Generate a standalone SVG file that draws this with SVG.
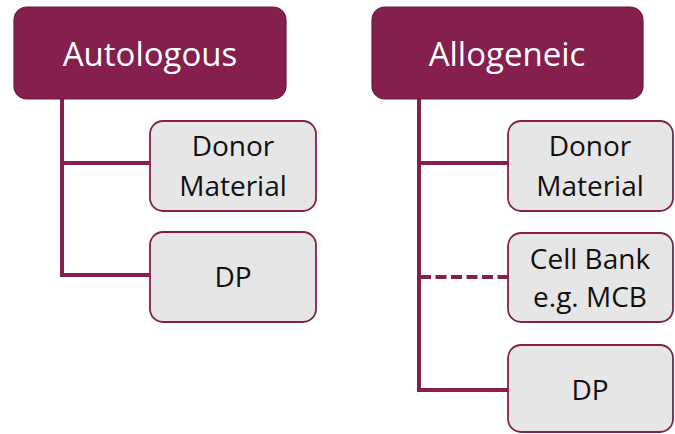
<svg xmlns="http://www.w3.org/2000/svg" width="675" height="434" viewBox="0 0 675 434">
  <style>
    .head rect { fill: #841f4e; stroke: #6b1940; stroke-width: 1.2; }
    .head text { fill: #ffffff; font-family: "Open Sans", "Noto Sans", sans-serif; font-size: 33px; text-anchor: middle; }
    .item rect { fill: #e6e6e6; stroke: #841f4e; stroke-width: 1.8; }
    .item text { fill: #111111; font-family: "Open Sans", "Noto Sans", sans-serif; font-size: 28px; text-anchor: middle; }
    .link { fill: none; stroke: #841f4e; stroke-width: 4; }
    .dashed { stroke-dasharray: 11 4.5; }
  </style>

  <!-- tree connectors -->
  <g id="connectors">
    <polyline class="link" points="62,99 62,275 150,275"/>
    <line class="link" x1="62" y1="163" x2="150" y2="163"/>
    <polyline class="link" points="419,99 419,390 508,390"/>
    <line class="link" x1="419" y1="163" x2="508" y2="163"/>
    <line class="link dashed" x1="420" y1="277" x2="508" y2="277"/>
  </g>

  <!-- left tree -->
  <g id="autologous" class="head">
    <rect x="14" y="7" width="272" height="92" rx="13"/>
    <text x="150" y="66">Autologous</text>
  </g>
  <g id="auto-donor-material" class="item">
    <rect x="150" y="121" width="166" height="90" rx="13"/>
    <text x="233" y="156">Donor</text>
    <text x="233" y="196">Material</text>
  </g>
  <g id="auto-dp" class="item">
    <rect x="150" y="232" width="166" height="90" rx="13"/>
    <text x="233" y="287">DP</text>
  </g>

  <!-- right tree -->
  <g id="allogeneic" class="head">
    <rect x="372" y="7" width="271" height="92" rx="13"/>
    <text x="507" y="66">Allogeneic</text>
  </g>
  <g id="allo-donor-material" class="item">
    <rect x="508" y="121" width="165" height="90" rx="13"/>
    <text x="590" y="156">Donor</text>
    <text x="590" y="196">Material</text>
  </g>
  <g id="allo-cell-bank" class="item">
    <rect x="508" y="233" width="165" height="89" rx="13"/>
    <text x="590" y="269">Cell Bank</text>
    <text x="590" y="307">e.g. MCB</text>
  </g>
  <g id="allo-dp" class="item">
    <rect x="508" y="345" width="165" height="87" rx="13"/>
    <text x="590" y="400">DP</text>
  </g>
</svg>
